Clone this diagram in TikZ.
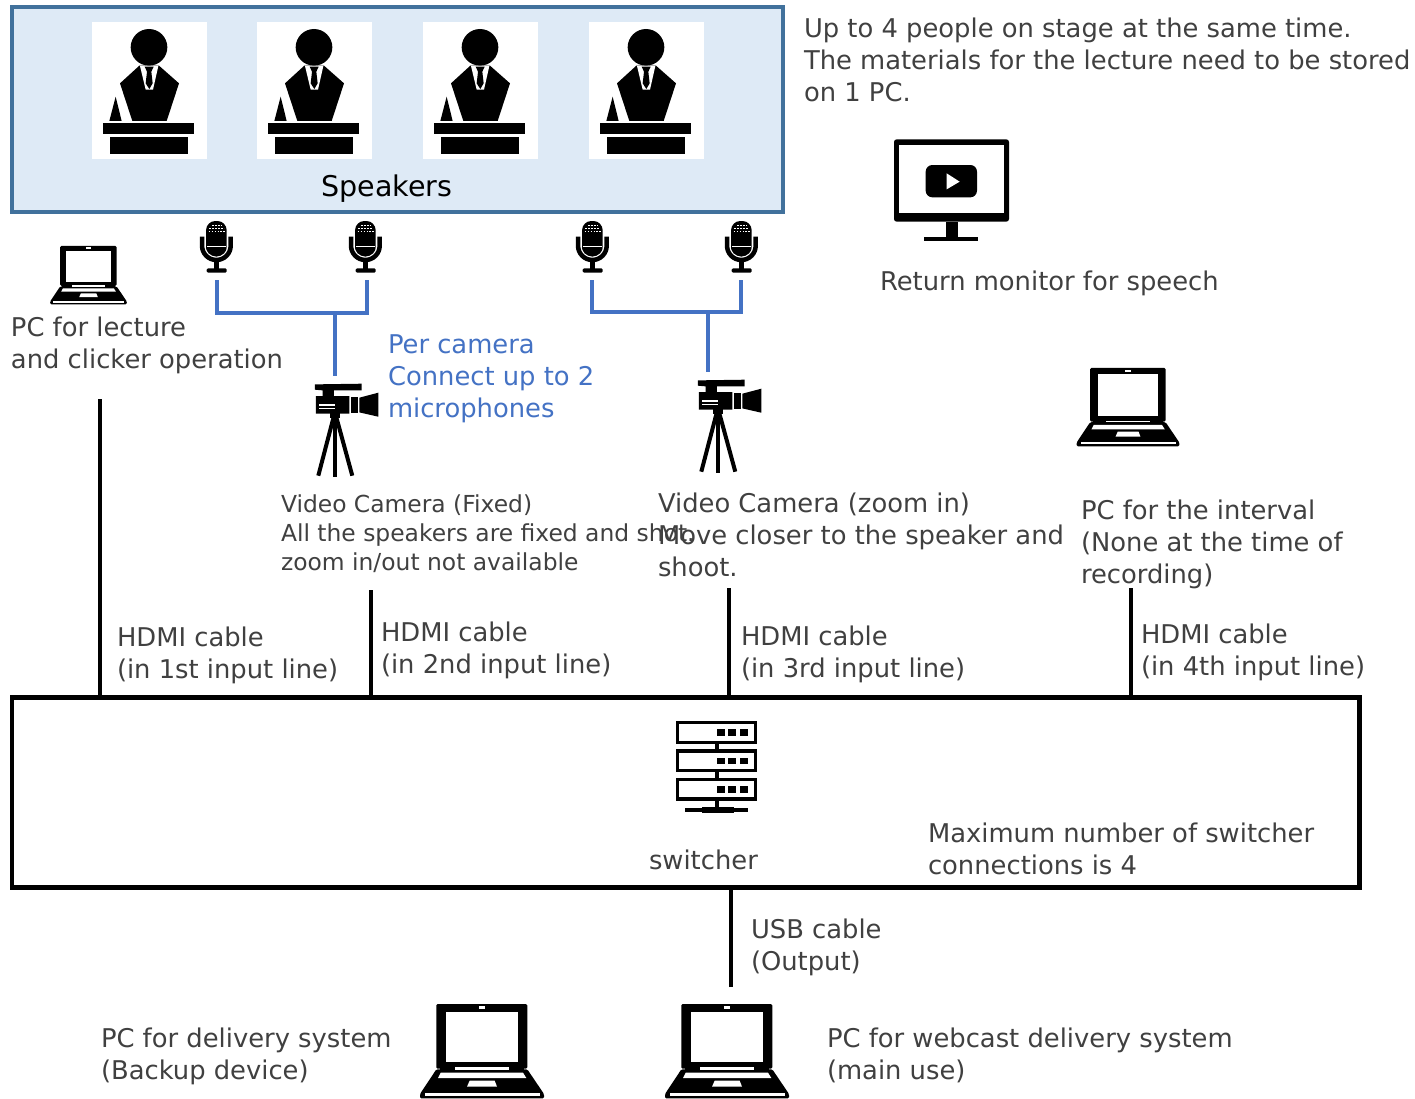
\documentclass[tikz,border=0pt]{standalone}
\usepackage{fontspec}
\setmainfont{DejaVu Sans}
\definecolor{txtgray}{HTML}{404040}
\definecolor{bluetxt}{HTML}{4472C4}
\definecolor{stagefill}{HTML}{DEEAF6}
\definecolor{stageline}{HTML}{41719C}
\tikzset{
  x=0.75pt,y=-0.75pt,
  txt/.style={anchor=north west,inner sep=0pt,outer sep=0pt,align=left,text=txtgray,yshift=10pt,
     font=\fontsize{19.35}{24}\selectfont},
  txtsmall/.style={txt,font=\fontsize{17.55}{21.4}\selectfont,yshift=-2.5pt},
  bluet/.style={txt,text=bluetxt},
  iconbox/.style={inner sep=0pt,outer sep=0pt,minimum width=36pt,minimum height=45pt},
  blueline/.style={draw=bluetxt,line width=3pt},
  cable/.style={draw=black,line width=3pt},
  pics/speaker/.style={code={
    \begin{scope}[x=.25pt,y=-.25pt]
      \fill[white] (20,22) rectangle (366,432);
      \fill[black] (192,97) circle (55);
      \fill[black] (105,205) -- (163,152) -- (222,152) -- (282,205) -- (245,318) -- (142,318) -- cycle;
      \fill[white] (165,153) -- (220,153) -- (204,224) -- (182,224) -- cycle;
      \fill[black] (179,155) -- (206,155) -- (199,170) -- (203,205) -- (193,222) -- (182,205) -- (186,170) -- cycle;
      \fill[black] (92,245) -- (110,318) -- (73,318) -- cycle;
      \fill[black] (55,325) rectangle (328,358);
      \fill[black] (75,367) rectangle (308,417);
    \end{scope}}},
  pics/micro/.style={code={
    \begin{scope}[x=.25pt,y=-.25pt,shift={(-80,-105)}]
      \fill[black,rounded corners=7pt] (48,18) rectangle (110,128);
      \draw[white,line width=1pt] (44,65) -- (44,92) arc[start angle=180,end angle=0,radius=35] -- (114,65);
      \draw[black,line width=3.4pt] (36,65) -- (36,92) arc[start angle=180,end angle=0,radius=43] -- (122,65);
      \fill[white] (50,93) rectangle (108,97);
      \foreach \yy/\a/\b in {30/66/94,40/58/102,50/56/104}{
        \draw[white,line width=.7pt,dash pattern=on 1.2pt off 1pt] (\a,\yy) -- (\b,\yy);}
      \fill[black] (72,134) rectangle (88,162);
      \fill[black,rounded corners=1pt] (50,160) rectangle (110,173);
    \end{scope}}},
  pics/camcorder/.style={code={
    \begin{scope}[x=.25pt,y=-.25pt,shift={(-436,-650)}]
      \fill[black] (375,508) -- (515,506) -- (515,526) -- (432,526) -- (432,543) -- (478,543) -- (478,596) -- (378,596) -- (378,543) -- (398,543) -- (398,526) -- (375,524) -- cycle;
      \fill[white] (388,567) rectangle (435,572);
      \fill[white] (388,578) rectangle (435,583);
      \fill[black] (484,546) rectangle (504,594);
      \fill[black] (508,548) -- (565,533) -- (565,605) -- (508,592) -- cycle;
      \fill[black] (420,595) rectangle (450,610);
      \draw[black,line width=3pt] (435,600) -- (435,785);
      \draw[black,line width=3pt] (430,610) -- (385,782);
      \draw[black,line width=3pt] (440,610) -- (487,782);
    \end{scope}}},
  pics/laptop/.style={code={
    \begin{scope}[x=.25pt,y=-.25pt,scale=#1,shift={(-232,-183)}]
      \fill[black,rounded corners=1pt] (95,42) rectangle (368,236);
      \fill[white] (125,65) rectangle (340,215);
      \fill[white] (222,49) rectangle (242,56);
      \fill[black,rounded corners=1pt] (95,238) -- (368,238) -- (418,312) -- (418,325) -- (46,325) -- (46,312) -- cycle;
      \fill[black] (105,232) rectangle (358,240);
      \fill[white] (152,232) rectangle (312,239);
      \fill[white] (108,248) -- (355,248) -- (365,264) -- (100,264) -- cycle;
      \fill[white] (195,272) -- (270,272) -- (277,290) -- (187,290) -- cycle;
      \fill[white] (62,310) rectangle (405,317);
    \end{scope}}},
  pics/monitor/.style={code={
    \begin{scope}[x=.25pt,y=-.25pt]
      \fill[black,rounded corners=2pt] (27,28) rectangle (372,275);
      \fill[white] (42,45) rectangle (358,250);
      \fill[black,rounded corners=5pt] (122,105) rectangle (276,202);
      \fill[white] (185,130) -- (224,155) -- (185,178) -- cycle;
      \fill[black] (182,275) rectangle (218,322);
      \fill[black] (118,320) rectangle (280,332);
    \end{scope}}},
  pics/server/.style={code={
    \begin{scope}[x=.25pt,y=-.25pt]
      \foreach \dy in {0,85,170}{
        \begin{scope}[yshift=-\dy*.25pt]
        \fill[black] (78,33) rectangle (322,102);
        \fill[white] (88,43) rectangle (312,92);
        \fill[black] (200,58) rectangle (224,78);
        \fill[black] (235,58) rectangle (259,78);
        \fill[black] (270,58) rectangle (293,78);
        \end{scope}}
      \fill[black] (194,102) rectangle (206,118);
      \fill[black] (194,187) rectangle (206,203);
      \fill[black] (194,272) rectangle (206,292);
      \fill[black] (105,294) rectangle (293,306);
      \fill[black] (157,290) rectangle (252,310);
    \end{scope}}}
}
\begin{document}
\begin{tikzpicture}
\useasboundingbox (0,0) rectangle (1415,1099);
% stage
\node[draw=stageline,fill=stagefill,line width=3pt,inner sep=0pt,outer sep=0pt,minimum width=578.25pt,minimum height=153.75pt] (stage) at (397.5,109.5) {};
\foreach \xx in {85,250,416,582} \pic at (\xx,15) {speaker};
\node[txt,text=black,anchor=north,font=\fontsize{21.4}{24}\selectfont] (spk) at (387,187.5) {\strut Speakers};
% top text
\node[txt] (note) at (804,28) {\strut Up to 4 people on stage at the same time.\\The materials for the lecture need to be stored\\on 1 PC.};
\pic at (885,130) {monitor};
\node[txt] (montxt) at (880,281) {\strut Return monitor for speech};
% microphones
\node[iconbox] (m1) at (217,250) {};
\node[iconbox] (m2) at (367,250) {};
\node[iconbox] (m3) at (592,250) {};
\node[iconbox] (m4) at (741,250) {};
\pic at (216.7,250) {micro};
\pic at (365.7,250) {micro};
\pic at (592.7,250) {micro};
\pic at (741.7,250) {micro};
% cameras
\node[iconbox,minimum height=82.5pt] (c1) at (335.3,431) {};
\node[iconbox,minimum height=82.5pt] (c2) at (718,427) {};
\pic at (335.3,431.7) {camcorder};
\pic at (718.3,427.7) {camcorder};
\coordinate (j1) at (335.3,313);
\coordinate (j2) at (708,312);
\draw[blueline] (m1.south) |- (j1) -| (m2.south);
\draw[blueline] (j1) -- (c1.north);
\draw[blueline] (m3.south) |- (j2) -| (m4.south);
\draw[blueline] (j2) -- (j2 |- c2.north);
% laptops
\node[iconbox] (pc1) at (88.5,275) {};
\pic at (pc1) {laptop=0.62};
\node[iconbox] (pc2) at (1128,407) {};
\pic at (pc2) {laptop=0.83};
\node[iconbox] (pc3) at (482,1051) {};
\pic at (pc3) {laptop=1};
\node[iconbox] (pc4) at (727,1051) {};
\pic at (pc4) {laptop=1};
% switcher
\node[draw=black,line width=3.4pt,inner sep=0pt,outer sep=0pt,minimum width=1010.6pt,minimum height=142.5pt] (sw) at (685.75,792.5) {};
\pic at (650,710) {server};
% cables
\coordinate (l1) at (100,399);
\coordinate (l2) at (370.5,590);
\coordinate (l3) at (729,588);
\coordinate (l4) at (1131,588);
\coordinate (l5) at (731,987);
\draw[cable] (l1) -- (l1 |- sw.north);
\draw[cable] (l2) -- (l2 |- sw.north);
\draw[cable] (l3) -- (l3 |- sw.north);
\draw[cable] (l4) -- (l4 |- sw.north);
\draw[cable] (l5) -- (l5 |- sw.south);
% texts
\node[txt] (t1) at (11,327) {\strut PC for lecture\\and clicker operation};
\node[bluet] (t2) at (388,344) {\strut Per camera\\Connect up to 2\\microphones};
\node[txtsmall] (t3) at (281,503) {\strut Video Camera (Fixed)\\All the speakers are fixed and shot.\\zoom in/out not available};
\node[txt] (t4) at (658,503) {\strut Video Camera (zoom in)\\Move closer to the speaker and\\shoot.};
\node[txt] (t5) at (1081,510) {\strut PC for the interval\\(None at the time of\\recording)};
\node[txt] (h1) at (117,637) {\strut HDMI cable\\(in 1st input line)};
\node[txt] (h2) at (381,632) {\strut HDMI cable\\(in 2nd input line)};
\node[txt] (h3) at (741,636) {\strut HDMI cable\\(in 3rd input line)};
\node[txt] (h4) at (1141,634) {\strut HDMI cable\\(in 4th input line)};
\node[txt] (swt) at (649,860) {\strut switcher};
\node[txt] (mx) at (928,833) {\strut Maximum number of switcher\\connections is 4};
\node[txt] (usb) at (751,929) {\strut USB cable\\(Output)};
\node[txt] (d1) at (101,1038) {\strut PC for delivery system\\(Backup device)};
\node[txt] (d2) at (827,1038) {\strut PC for webcast delivery system\\(main use)};
\end{tikzpicture}
\end{document}
